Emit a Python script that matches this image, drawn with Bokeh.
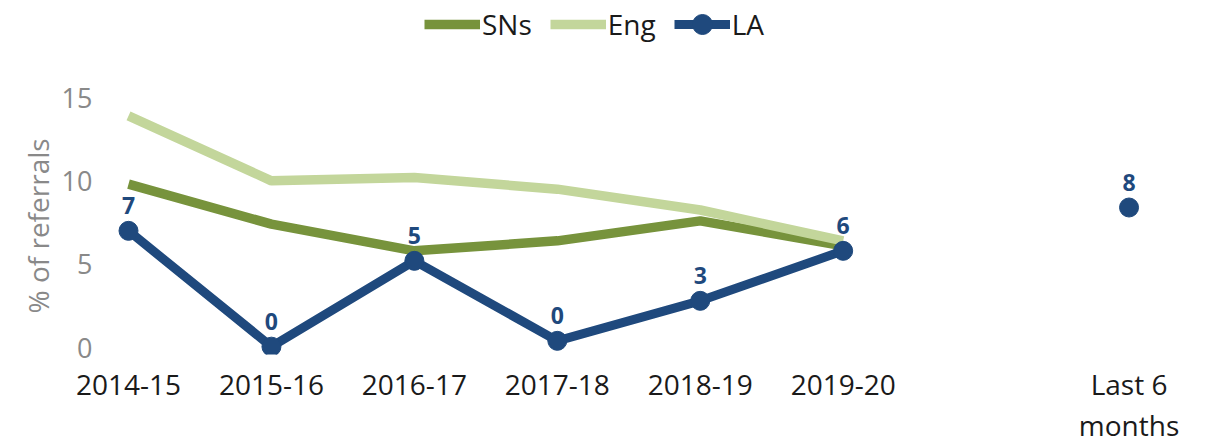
import numpy as np
from bokeh.plotting import figure
from bokeh.models import ColumnDataSource, FixedTicker, Legend, LegendItem, Title
from bokeh.core.properties import value
from bokeh.embed import file_html
from bokeh.resources import INLINE

categories = ["2014-15", "2015-16", "2016-17", "2017-18", "2018-19", "2019-20", "", "Last 6\nmonths"]
sns = [9.8, 7.4, 5.8, 6.4, 7.6, 6.1, np.nan, np.nan]
eng = [13.9, 10.0, 10.2, 9.5, 8.25, 6.4, np.nan, np.nan]
la = [7.0, 0.05, 5.2, 0.4, 2.8, 5.8, np.nan, 8.4]
la_labels = ["7", "0", "5", "0", "3", "6", "", "8"]

x = list(range(len(categories)))
src = ColumnDataSource(dict(x=x, sns=sns, eng=eng, la=la, lab=la_labels))

FONT = "Open Sans"
p = figure(frame_width=1090, frame_height=354, x_range=(-0.126, 7.5), y_range=(-0.42, 20.82),
           output_backend="svg", toolbar_location=None,
           min_border_left=110, min_border_right=5, min_border_top=0, min_border_bottom=0)
p.outline_line_color = None
p.xgrid.grid_line_color = None
p.ygrid.grid_line_color = None

sn_r = p.line("x", "sns", source=src, line_color="#77933C", line_width=9.5)
eng_r = p.line("x", "eng", source=src, line_color="#C3D69B", line_width=9.5)
la_line = p.line("x", "la", source=src, line_color="#1F497D", line_width=9)
la_pts = p.scatter("x", "la", source=src, size=19, fill_color="#1F497D", line_color="#1F497D")
p.text("x", "la", text="lab", source=src, text_align="center", text_baseline="alphabetic",
       y_offset=-25, text_font=value(FONT), text_font_style="bold",
       text_font_size="23px", text_color="#1F497D")

p.xaxis.ticker = FixedTicker(ticks=[0, 1, 2, 3, 4, 5, 7])
p.xaxis.major_label_overrides = {i: c for i, c in enumerate(categories) if c}
p.xaxis.major_label_text_font = FONT
p.xaxis.major_label_text_font_size = "28px"
p.xaxis.major_label_text_color = "#1A1A1A"
p.xaxis.major_label_text_line_height = 1.1
p.xaxis.axis_line_color = None
p.xaxis.major_tick_line_color = None
p.xaxis.minor_tick_line_color = None
p.xaxis.major_label_standoff = 4

p.yaxis.ticker = FixedTicker(ticks=[0, 5, 10, 15])
p.yaxis.major_label_text_font = FONT
p.yaxis.major_label_text_font_size = "27px"
p.yaxis.major_label_text_color = "#898989"
p.yaxis.axis_line_color = None
p.yaxis.major_tick_line_color = None
p.yaxis.minor_tick_line_color = None
p.yaxis.major_label_standoff = 12

ytitle = Title(text="% of referrals", align="left", offset=41,
               text_font=FONT, text_font_size="28px", text_font_style="normal",
               text_color="#898989", standoff=4)
p.add_layout(ytitle, "left")

legend = Legend(items=[LegendItem(label="SNs", renderers=[sn_r]),
                       LegendItem(label="Eng", renderers=[eng_r]),
                       LegendItem(label="LA", renderers=[la_line, la_pts])],
                orientation="horizontal", location=(314, 305),
                label_text_font=FONT, label_text_font_size="28px", label_text_color="#1A1A1A",
                glyph_width=56, glyph_height=50, label_standoff=2, spacing=18,
                border_line_color=None, background_fill_alpha=0, padding=0, margin=0)
p.add_layout(legend)

open("out.html", "w").write(file_html(p, INLINE))
